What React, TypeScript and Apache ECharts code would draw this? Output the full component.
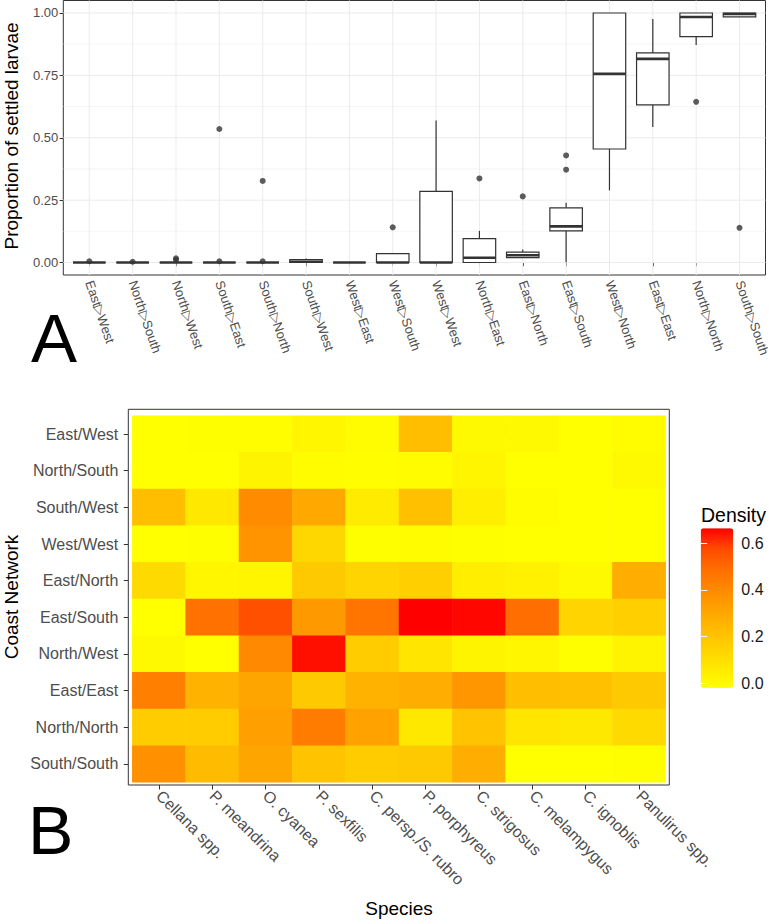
import React, { useEffect, useRef } from "react";
import * as echarts from "echarts";

const FONT = '"Liberation Sans", Arial, Helvetica, sans-serif';

// ---- Panel A data ----
const routes = [
  "East▷West", "North▷South", "North▷West", "South▷East", "South▷North", "South▷West",
  "West▷East", "West▷South", "West▷West", "North▷East", "East▷North", "East▷South",
  "West▷North", "East▷East", "North▷North", "South▷South",
];
const whiskerLow = [0, 0, 0, 0, 0, 0, 0, 0, 0, 0, 0.019, 0.001, 0.289, 0.543, 0.872, 0.984];
const quart1 = [0, 0, 0, 0, 0, 0, 0, 0, 0, 0, 0.02, 0.127, 0.455, 0.632, 0.905, 0.984];
const medians = [0, 0, 0, 0, 0, 0.003, 0, 0, 0, 0.019, 0.029, 0.145, 0.756, 0.816, 0.984, 0.996];
const quart3 = [0, 0, 0, 0, 0, 0.012, 0, 0.036, 0.285, 0.096, 0.042, 0.219, 1.0, 0.84, 1.0, 1.0];
const whiskerHigh = [0, 0, 0, 0, 0, 0.016, 0, 0.036, 0.569, 0.127, 0.052, 0.24, 1.0, 0.976, 1.0, 1.0];
// outliers: [route index (1-based), value]
const outlierRoute = [1, 2, 3, 3, 4, 4, 5, 5, 8, 10, 11, 12, 12, 15, 16];
const outlierValue = [0.005, 0.003, 0.017, 0.01, 0.535, 0.005, 0.327, 0.005, 0.141, 0.337, 0.265, 0.372, 0.429, 0.644, 0.139];
const yMajorTicks = [0, 0.25, 0.5, 0.75, 1.0];
const yMinorTicks = [0.125, 0.375, 0.625, 0.875];

// ---- Panel B data ----
const species = [
  "Cellana spp.", "P. meandrina", "O. cyanea", "P. sexfilis", "C. persp./S. rubro",
  "P. porphyreus", "C. strigosus", "C. melampygus", "C. ignoblis", "Panulirus spp.",
];
const networks = [
  "East/West", "North/South", "South/West", "West/West", "East/North",
  "East/South", "North/West", "East/East", "North/North", "South/South",
];
const densEastWest = [0.0, 0.004, 0.008, 0.03, 0.015, 0.23, 0.02, 0.02, 0.0, 0.01];
const densNorthSouth = [0.0, 0.0, 0.04, 0.01, 0.006, 0.01, 0.035, 0.0, 0.0, 0.02];
const densSouthWest = [0.23, 0.08, 0.39, 0.3, 0.07, 0.22, 0.06, 0.01, 0.0, 0.0];
const densWestWest = [0.0, 0.005, 0.37, 0.14, 0.005, 0.01, 0.004, 0.0, 0.0, 0.0];
const densEastNorth = [0.13, 0.03, 0.035, 0.19, 0.15, 0.17, 0.06, 0.05, 0.02, 0.28];
const densEastSouth = [0.0, 0.47, 0.55, 0.35, 0.46, 0.647, 0.64, 0.48, 0.15, 0.17];
const densNorthWest = [0.02, 0.0, 0.4, 0.63, 0.18, 0.09, 0.04, 0.03, 0.005, 0.04];
const densEastEast = [0.43, 0.27, 0.31, 0.19, 0.27, 0.28, 0.36, 0.23, 0.22, 0.19];
const densNorthNorth = [0.18, 0.18, 0.33, 0.44, 0.32, 0.08, 0.21, 0.09, 0.08, 0.13];
const densSouthSouth = [0.38, 0.24, 0.31, 0.21, 0.18, 0.19, 0.28, 0.0, 0.0, 0.005];
const densityRows = [
  densEastWest, densNorthSouth, densSouthWest, densWestWest, densEastNorth,
  densEastSouth, densNorthWest, densEastEast, densNorthNorth, densSouthSouth,
];
const densityMax = 0.647;

export default function App() {
  const ref = useRef<HTMLDivElement>(null);

  useEffect(() => {
    document.body.style.margin = "0";
    if (!ref.current) return;
    const chart = echarts.init(ref.current, null, { renderer: "svg" });

    const routePos = routes.map((_, i) => i + 1);
    const boxData = routes.map((_, i) => [i + 1, whiskerLow[i], quart1[i], medians[i], quart3[i], whiskerHigh[i]]);
    const outData = outlierRoute.map((r, i) => [r, outlierValue[i]]);
    const heatData: number[][] = [];
    densityRows.forEach((row, r) => row.forEach((v, c) => heatData.push([c, r, v])));

    const vGrid = routePos.map((x) => [x, 0]);
    const hMajor = yMajorTicks.map((y) => [1, y]);
    const hMinor = yMinorTicks.map((y) => [1, y]);

    const lineEl = (p1: number[], p2: number[], w: number) => ({
      type: "line",
      shape: { x1: p1[0], y1: p1[1], x2: p2[0], y2: p2[1] },
      style: { stroke: "#EBEBEB", lineWidth: w },
    });

    const option: any = {
      animation: false,
      textStyle: { fontFamily: FONT },
      grid: [
        { left: 63.3, top: 0.5, width: 707.7, height: 274.5, show: true, borderColor: "#333333", borderWidth: 1, backgroundColor: "transparent" },
        { left: 132.3, top: 415.7, width: 533.4, height: 366.6 },
        { left: 700.7, top: 543.3, width: 32.6, height: 140 },
      ],
      xAxis: [
        {
          gridIndex: 0, type: "value", min: 0.4, max: 16.6,
          axisLine: { show: false }, splitLine: { show: false },
          axisTick: { show: true, customValues: routePos, length: 3.7, lineStyle: { color: "#333333", width: 1 } },
          axisLabel: {
            customValues: routePos, rotate: -71, margin: 6, fontSize: 13, color: "#4D4D4D", fontFamily: FONT,
            formatter: (v: number) => routes[Math.round(v) - 1] ?? "",
          },
        },
        {
          gridIndex: 1, type: "category", data: species, offset: 2.7,
          axisLine: { show: false }, splitLine: { show: false },
          axisTick: { show: true, alignWithLabel: true, length: 4.5, lineStyle: { color: "#333333", width: 1 } },
          axisLabel: { interval: 0, rotate: -45, margin: 8, fontSize: 16, color: "#4D4D4D", fontFamily: FONT },
        },
        { gridIndex: 2, type: "value", min: 0, max: 1, show: false },
      ],
      yAxis: [
        {
          gridIndex: 0, type: "value", min: -0.05, max: 1.05,
          axisLine: { show: false }, splitLine: { show: false },
          axisTick: { show: true, customValues: yMajorTicks, length: 3.7, lineStyle: { color: "#333333", width: 1 } },
          axisLabel: {
            customValues: yMajorTicks, margin: 5, fontSize: 13, color: "#4D4D4D", fontFamily: FONT,
            formatter: (v: number) => v.toFixed(2),
          },
        },
        {
          gridIndex: 1, type: "category", data: networks, inverse: true, offset: 4,
          axisLine: { show: false }, splitLine: { show: false },
          axisTick: { show: true, alignWithLabel: true, length: 4.5, lineStyle: { color: "#333333", width: 1 } },
          axisLabel: { interval: 0, margin: 10, fontSize: 16, color: "#4D4D4D", fontFamily: FONT },
        },
        {
          gridIndex: 2, type: "value", min: 0, max: 0.6, interval: 0.2, position: "right", z: 10,
          axisLine: { show: false }, splitLine: { show: false },
          axisTick: { show: true, inside: true, length: 6.5, lineStyle: { color: "#FFFFFF", width: 1 } },
          axisLabel: { margin: 8, fontSize: 16, color: "#1A1A1A", fontFamily: FONT, formatter: (v: number) => v.toFixed(1) },
        },
        {
          gridIndex: 2, type: "value", min: 0, max: 0.6, interval: 0.2, position: "left", z: 10,
          axisLine: { show: false }, splitLine: { show: false },
          axisTick: { show: true, inside: true, length: 6.5, lineStyle: { color: "#FFFFFF", width: 1 } },
          axisLabel: { show: false },
        },
      ],
      visualMap: {
        type: "continuous", min: 0, max: densityMax, seriesIndex: 5, calculable: false, hoverLink: false,
        left: 700.7, top: 528.3, itemWidth: 32.6, itemHeight: 159.4, padding: 0, z: 1,
        inRange: { color: ["#FFFF00", "#FFE800", "#FFD100", "#FFBA00", "#FFA100", "#FF8800", "#FF6C00", "#FF4900", "#FF0000"] },
      },
      series: [
        {
          type: "custom", xAxisIndex: 0, yAxisIndex: 0, z: 1, silent: true, data: vGrid,
          renderItem: (_p: any, api: any) => lineEl(api.coord([api.value(0), -0.05]), api.coord([api.value(0), 1.05]), 1),
        },
        {
          type: "custom", xAxisIndex: 0, yAxisIndex: 0, z: 1, silent: true, data: hMajor,
          renderItem: (_p: any, api: any) => lineEl(api.coord([0.4, api.value(1)]), api.coord([16.6, api.value(1)]), 1),
        },
        {
          type: "custom", xAxisIndex: 0, yAxisIndex: 0, z: 1, silent: true, data: hMinor,
          renderItem: (_p: any, api: any) => lineEl(api.coord([0.4, api.value(1)]), api.coord([16.6, api.value(1)]), 0.5),
        },
        {
          type: "custom", xAxisIndex: 0, yAxisIndex: 0, z: 3, silent: true, data: boxData,
          encode: { x: 0, y: [1, 2, 3, 4, 5] },
          renderItem: (_p: any, api: any) => {
            const x = api.value(0);
            const w = api.size([0.75, 0])[0];
            const pl = api.coord([x, api.value(1)]);
            const p1 = api.coord([x, api.value(2)]);
            const pm = api.coord([x, api.value(3)]);
            const p3 = api.coord([x, api.value(4)]);
            const ph = api.coord([x, api.value(5)]);
            const st = { stroke: "#333333", lineWidth: 1.2 };
            return {
              type: "group",
              children: [
                { type: "line", shape: { x1: pl[0], y1: pl[1], x2: p1[0], y2: p1[1] }, style: st },
                { type: "line", shape: { x1: p3[0], y1: p3[1], x2: ph[0], y2: ph[1] }, style: st },
                { type: "rect", shape: { x: p1[0] - w / 2, y: p3[1], width: w, height: p1[1] - p3[1] }, style: { fill: "#FFFFFF", stroke: "#333333", lineWidth: 1.2 } },
                { type: "line", shape: { x1: pm[0] - w / 2, y1: pm[1], x2: pm[0] + w / 2, y2: pm[1] }, style: { stroke: "#333333", lineWidth: 2.6 } },
              ],
            };
          },
        },
        {
          type: "scatter", xAxisIndex: 0, yAxisIndex: 0, z: 4, silent: true, data: outData,
          symbol: "circle", symbolSize: 6, itemStyle: { color: "#333333" },
        },
        {
          type: "heatmap", xAxisIndex: 1, yAxisIndex: 1, data: heatData, silent: true,
          itemStyle: { borderWidth: 0 }, emphasis: { disabled: true },
        },
      ],
      graphic: [
        { type: "rect", silent: true, z: 20, shape: { x: 128.3, y: 409.3, width: 541, height: 375.7 }, style: { fill: "none", stroke: "#333333", lineWidth: 1 } },
        { type: "text", x: 31, y: 338, style: { text: "A", fontSize: 69, fontFamily: FONT, fill: "#000000", align: "left", verticalAlign: "middle" } },
        { type: "text", x: 28, y: 829.5, style: { text: "B", fontSize: 68, fontFamily: FONT, fill: "#000000", align: "left", verticalAlign: "middle" } },
        { type: "text", x: 417, y: 428, style: { text: "Coast spawned to coast settled", fontSize: 19, fontFamily: FONT, fill: "#000000", align: "center", verticalAlign: "middle" } },
        { type: "text", x: 11, y: 136, rotation: Math.PI / 2, style: { text: "Proportion of settled larvae", fontSize: 19, fontFamily: FONT, fill: "#000000", align: "center", verticalAlign: "middle" } },
        { type: "text", x: 11, y: 597, rotation: Math.PI / 2, style: { text: "Coast Network", fontSize: 19, fontFamily: FONT, fill: "#000000", align: "center", verticalAlign: "middle" } },
        { type: "text", x: 399, y: 908, style: { text: "Species", fontSize: 19, fontFamily: FONT, fill: "#000000", align: "center", verticalAlign: "middle" } },
        { type: "text", x: 701, y: 515, style: { text: "Density", fontSize: 19.5, fontFamily: FONT, fill: "#000000", align: "left", verticalAlign: "middle" } },
      ],
    };

    chart.setOption(option);
    return () => chart.dispose();
  }, []);

  return <div ref={ref} style={{ width: 772, height: 920 }} />;
}
